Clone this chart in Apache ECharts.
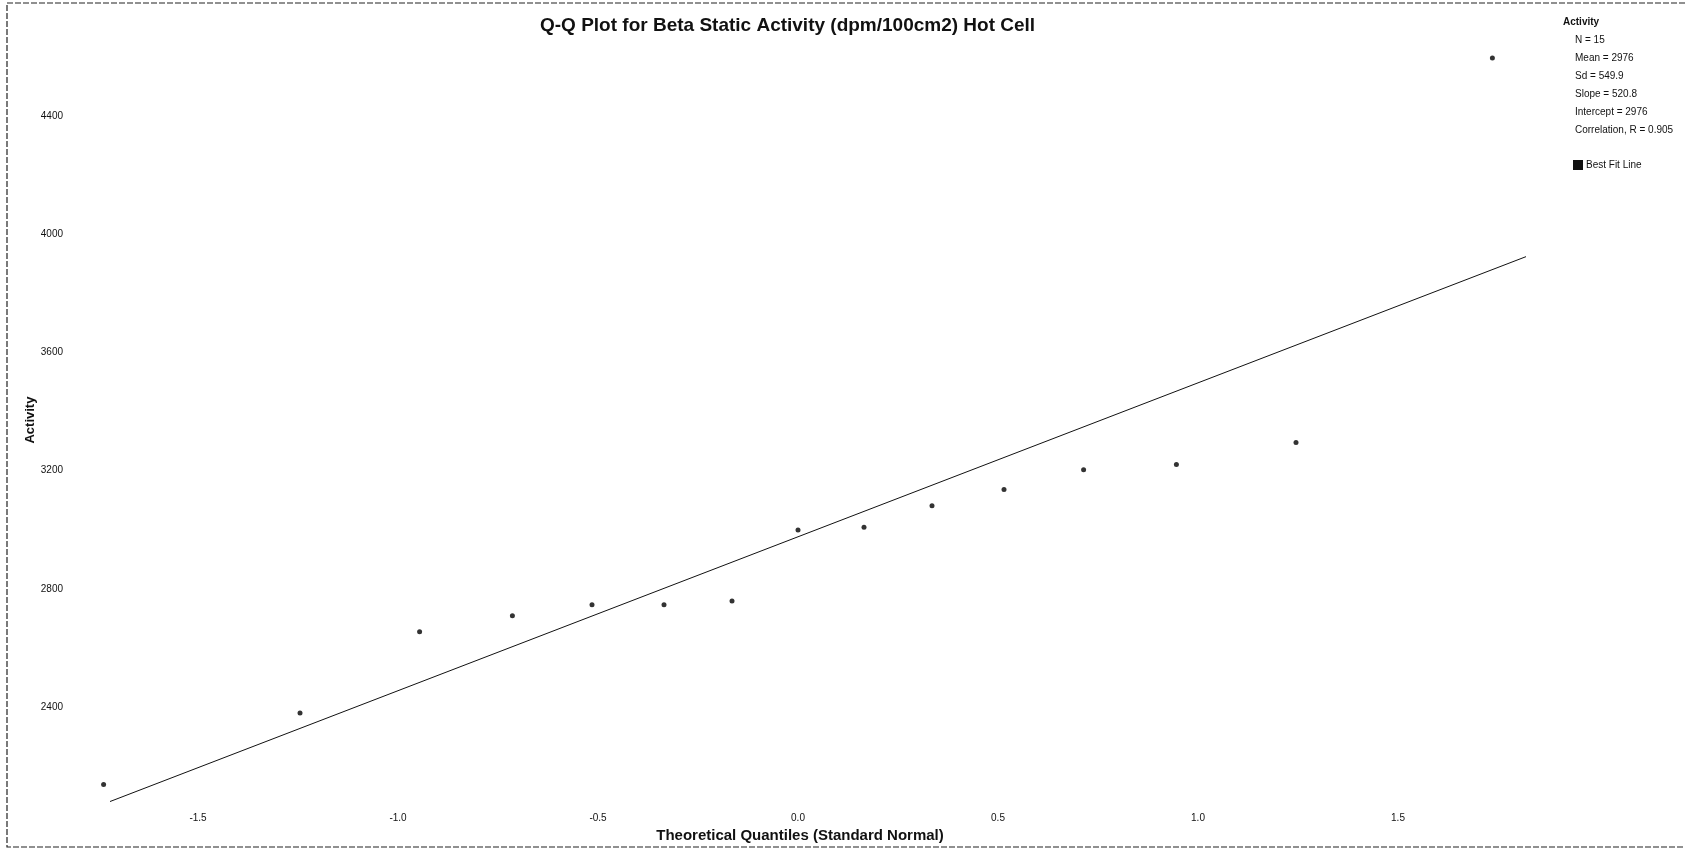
<!DOCTYPE html>
<html>
<head>
<meta charset="utf-8">
<script src="https://cdn.jsdelivr.net/npm/echarts@6/dist/echarts.min.js"></script>
<style>
html,body{margin:0;padding:0;background:#fff;}
#chart{width:1685px;height:849px;}
</style>
</head>
<body>
<div id="chart"></div>
<script>
// ---- data ----
const quantiles = [-1.736, -1.245, -0.946, -0.714, -0.515, -0.335, -0.165, 0, 0.165, 0.335, 0.515, 0.714, 0.946, 1.245, 1.736];
const activity  = [2138, 2380, 2655, 2709, 2746, 2746, 2759, 2999, 3008, 3081, 3136, 3203, 3221, 3295, 4596];
const fitX = [-1.72, 1.82];
const fitY = [2080, 3924];
const xTicks = [-1.5, -1.0, -0.5, 0.0, 0.5, 1.0, 1.5];
const yTicks = [2400, 2800, 3200, 3600, 4000, 4400];
const statLines = ['N = 15', 'Mean = 2976', 'Sd = 549.9', 'Slope = 520.8', 'Intercept = 2976', 'Correlation, R = 0.905'];
const titleText = 'Q-Q Plot for Beta Static Activity (dpm/100cm2) Hot Cell';
const xName = 'Theoretical Quantiles (Standard Normal)';
const yName = 'Activity';
const fitName = 'Best Fit Line';

const chart = echarts.init(document.getElementById('chart'));
const narrow = "'Liberation Sans Narrow', 'Liberation Sans', Arial, sans-serif";
const sans = "'Liberation Sans', Arial, sans-serif";

chart.setOption({
  animation: false,
  backgroundColor: '#fff',
  title: [
    { text: titleText, left: 535, top: 11,
      textStyle: { fontFamily: sans, fontSize: 19, fontWeight: 'bold', color: '#111' } },
    { text: 'Activity', left: 1558, top: 12,
      textStyle: { fontFamily: narrow, fontSize: 10, fontWeight: 'bold', color: '#111' } },
    { text: statLines.join('\n'), left: 1570, top: 26,
      textStyle: { fontFamily: narrow, fontSize: 10, fontWeight: 'normal', color: '#111', lineHeight: 18 } }
  ],
  legend: {
    data: [fitName], left: 1568, top: 155, icon: 'rect', itemWidth: 10, itemHeight: 10, itemGap: 4,
    textStyle: { fontFamily: narrow, fontSize: 10, color: '#111', padding: [0,0,0,-2] }
  },
  graphic: [
    { type: 'rect', shape: { x: 7, y: 3, width: 1700, height: 844 },
      style: { fill: 'none', stroke: '#222', lineWidth: 1.2, lineDash: [6, 2] }, silent: true }
  ],
  grid: { left: 80, right: 87, top: 3.7, bottom: 38.6 },
  xAxis: {
    type: 'value', min: -1.795, max: 2.0,
    name: xName, nameLocation: 'middle', nameGap: 18,
    nameTextStyle: { fontFamily: sans, fontSize: 15, fontWeight: 'bold', color: '#111', padding: [0, 78, 0, 0] },
    axisLine: { show: false }, axisTick: { show: false }, splitLine: { show: false },
    axisLabel: { customValues: xTicks, margin: 3, fontFamily: narrow, fontSize: 10, color: '#111',
      formatter: v => v.toFixed(1) }
  },
  yAxis: {
    type: 'value', min: 2050, max: 4780,
    name: yName, nameLocation: 'middle', nameGap: 43, nameRotate: 90, nameMoveOverlap: false,
    nameTextStyle: { fontFamily: sans, fontSize: 13, fontWeight: 'bold', color: '#111', padding: [0, 26, 0, 0] },
    axisLine: { show: false }, axisTick: { show: false }, splitLine: { show: false },
    axisLabel: { customValues: yTicks, margin: 17, fontFamily: narrow, fontSize: 10, color: '#111',
      formatter: v => String(v) }
  },
  series: [
    { name: 'Activity', type: 'scatter', symbol: 'circle', symbolSize: 5,
      itemStyle: { color: '#000' },
      data: quantiles.map((q, i) => [q, activity[i]]) },
    { name: fitName, type: 'line', symbol: 'none', clip: false,
      lineStyle: { color: '#111', width: 1 }, itemStyle: { color: '#111' },
      data: fitX.map((x, i) => [x, fitY[i]]) }
  ]
});
</script>
</body>
</html>
